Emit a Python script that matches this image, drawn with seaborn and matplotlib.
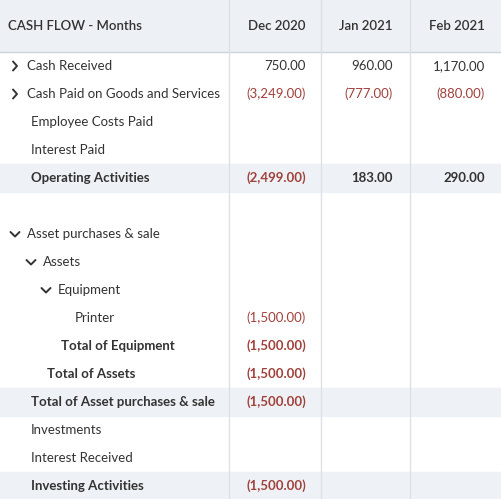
import matplotlib
matplotlib.use("Agg")
import matplotlib.pyplot as plt
import seaborn as sns

sns.set_style("white")
plt.rcParams['font.family'] = ['Lato', 'DejaVu Sans']

header = ["CASH FLOW - Months", "Dec 2020", "Jan 2021", "Feb 2021"]
labels = ["Cash Received", "Cash Paid on Goods and Services", "Employee Costs Paid", "Interest Paid",
          "Operating Activities", "", "Asset purchases & sale", "Assets", "Equipment", "Printer",
          "Total of Equipment", "Total of Assets", "Total of Asset purchases & sale", "Investments",
          "Interest Received", "Investing Activities"]
indent = [27, 27, 31, 31, 31, 0, 27, 43, 58, 75, 61, 47, 31, 31, 31, 31]
chevron = ["r", "r", "", "", "", "", "d", "d", "d", "", "", "", "", "", "", ""]
bold = [0, 0, 0, 0, 1, 0, 0, 0, 0, 0, 1, 1, 1, 0, 0, 1]
shaded = [0, 0, 0, 0, 1, 0, 0, 0, 0, 0, 0, 0, 1, 0, 0, 1]
dec = [750, -3249, None, None, -2499, None, None, None, None, -1500, -1500, -1500, -1500, None, None, -1500]
jan = [960, -777, None, None, 183, None, None, None, None, None, None, None, None, None, None, None]
feb = [1170, -880, None, None, 290, None, None, None, None, None, None, None, None, None, None, None]

W, H = 501, 499
fig = plt.figure(figsize=(W/100, H/100), dpi=100)
ax = fig.add_axes([0, 0, 1, 1])
ax.set_xlim(0, W); ax.set_ylim(H, 0); ax.axis("off")

txt = "#333333"; neg = "#a0413c"; shade = "#eef2f6"; line = "#dde1e6"
colb = [0, 229, 321, 410, 501]
colr = [None, 306, 393, 485]

ax.axhspan(0, 52, color="#edf0f4", zorder=0)
ax.axhline(52, color="#cfd4da", lw=1)
ax.text(8, 26, header[0], ha="left", va="center", fontsize=9.5, color=txt, fontweight="semibold")
for j in range(1, 4):
    ax.text(colr[j], 26, header[j], ha="right", va="center", fontsize=9.5, color=txt, fontweight="semibold")

def fmt(v):
    s = f"{abs(v):,.2f}"
    return f"({s})" if v < 0 else s

for i, lab in enumerate(labels):
    y0 = 52 + 28 * i; yc = y0 + 14
    if shaded[i]:
        ax.axhspan(y0, y0 + 28, color=shade, zorder=0)
    ax.text(indent[i], yc, lab, ha="left", va="center", fontsize=9.5, color=txt,
            fontweight="bold" if bold[i] else "normal")
    cx = indent[i] - 12
    if chevron[i] == "r":
        ax.plot([cx - 2, cx + 2, cx - 2], [yc - 4.5, yc, yc + 4.5], color=txt, lw=1.4)
    elif chevron[i] == "d":
        ax.plot([cx - 4.5, cx, cx + 4.5], [yc - 2, yc + 2.5, yc - 2], color=txt, lw=1.4)
    for j, arr in zip(range(1, 4), [dec, jan, feb]):
        v = arr[i]
        if v is not None:
            ax.text(colr[j], yc, fmt(v), ha="right", va="center", fontsize=9.5,
                    color=neg if v < 0 else txt, fontweight="bold" if bold[i] else "normal")

for x in colb[1:4]:
    ax.axvline(x, color=line, lw=1)

fig.savefig("out.png", dpi=100)
